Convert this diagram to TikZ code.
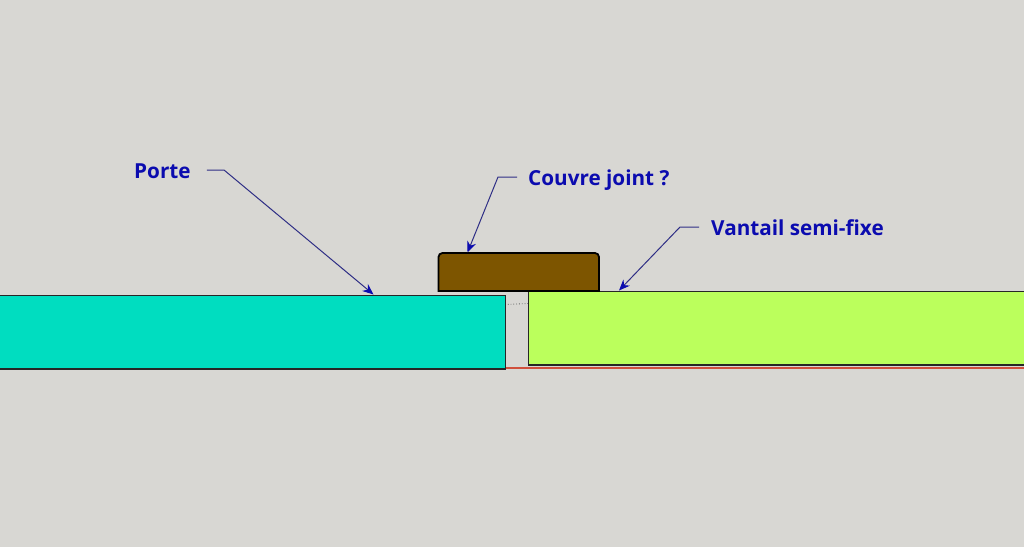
\documentclass[tikz,border=0pt]{standalone}
\usepackage{fontspec}
\setmainfont{Open Sans}
\usetikzlibrary{arrows.meta}

\definecolor{bgGrey}{HTML}{D8D7D3}
\definecolor{porteTeal}{HTML}{00DDC0}
\definecolor{vantailGreen}{HTML}{BBFF5C}
\definecolor{couvreBrown}{HTML}{7D5500}
\definecolor{labelBlue}{HTML}{0B0BAF}
\definecolor{leaderBlue}{HTML}{2E2E85}
\definecolor{edgeRed}{HTML}{D0503C}

\tikzset{
  leaf/.style={draw=black!85, line width=1.8pt, minimum height=73.5pt, inner sep=0pt, anchor=north west},
  callout/.style={text=labelBlue, font=\bfseries\fontsize{20.7}{22}\selectfont, inner sep=0pt, anchor=base west},
  leader/.style={draw=leaderBlue, line width=1pt, -{Stealth[length=11pt,width=9pt,color=labelBlue]}}
}

\begin{document}
\begin{tikzpicture}[x=1pt, y=-1pt]
      \useasboundingbox[fill=bgGrey] (0,0) rectangle (1024,547);
      \draw[black!60, dotted, line width=0.8pt] (505,304.5) -- (528,303.5);
      % door, fixed leaf and cover strip
      \node[leaf, fill=porteTeal, minimum width=510pt] (porte) at (-5.5,294.5) {};
      \node[leaf, fill=vantailGreen, minimum width=500pt] (vantail) at (527.5,290.5) {};
      \draw[fill=couvreBrown, draw=black, line width=1.8pt, rounded corners=4pt]
      (438.5,291) [sharp corners] -- (438.5,270) [rounded corners=4pt] -- (438.5,253) -- (599,253) -- (599,270) [sharp corners] -- (599,291) -- cycle;
      % reference line under both leaves
      \draw[edgeRed, line width=1.1pt] (506,368) -- (1024,368);
      \coordinate (porteTip) at (373.5,294.5);
      \coordinate (couvreTip) at (467.5,252.5);
      \coordinate (vantailTip) at (619,290.5);
      \node[callout] (lblPorte) at (134,178.5) {Porte};
      \node[callout] (lblCouvre) at (528,185) {Couvre joint ?};
      \node[callout] (lblVantail) at (711,235.5) {Vantail semi-fixe};
      \coordinate (kneePorte) at (224,170);
      \coordinate (kneeCouvre) at (498,177);
      \coordinate (kneeVantail) at (680,227);
      \draw[leader] ([xshift=16pt]lblPorte.east |- kneePorte) -- (kneePorte) -- (porteTip);
      \draw[leader] ([xshift=-11pt]lblCouvre.west |- kneeCouvre) -- (kneeCouvre) -- (couvreTip);
      \draw[leader] ([xshift=-12pt]lblVantail.west |- kneeVantail) -- (kneeVantail) -- (vantailTip);
    \end{tikzpicture}
\end{document}
